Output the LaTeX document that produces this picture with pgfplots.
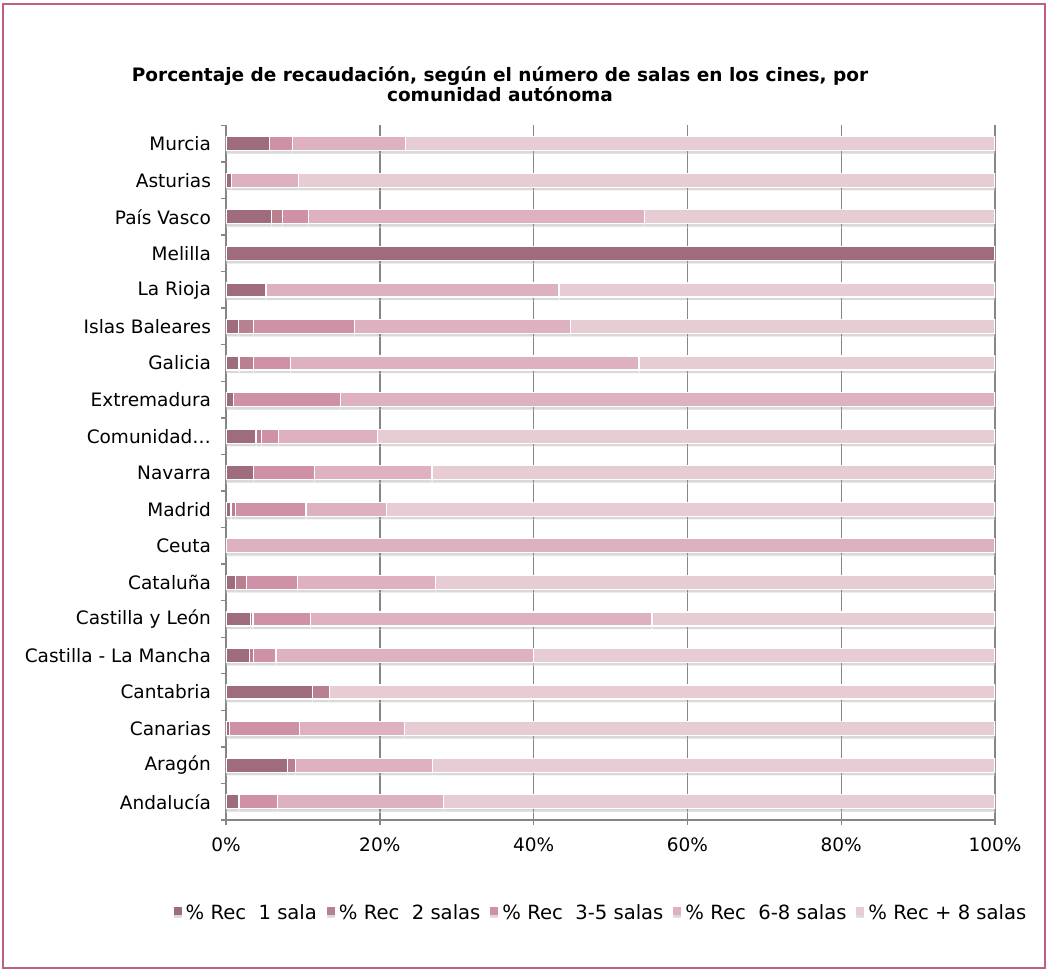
\documentclass[border=0pt]{standalone}
\usepackage{pgfplots}
\pgfplotsset{compat=1.18}
\usepackage{pgfplotstable}
\usepackage{fontspec}
\setmainfont{DejaVu Sans}
\usetikzlibrary{shadows}

\definecolor{c1}{HTML}{9E6C7C}
\definecolor{c2}{HTML}{B8818F}
\definecolor{c3}{HTML}{CF91A6}
\definecolor{c4}{HTML}{DDB1C0}
\definecolor{c5}{HTML}{E8CCD4}
\definecolor{frame}{HTML}{C0607F}
\definecolor{axgray}{HTML}{868686}

% pos: 0 = Andalucia (bottom) ... 18 = Murcia (top)
\pgfplotstableread{
pos s1 s2 s3 s4 s5
0 1.7 0 5.0 21.6 71.7
1 8.0 1.0 0 17.9 73.1
2 0.5 0 9.1 13.6 76.8
3 11.2 2.3 0 0 86.5
4 3.1 0.5 2.9 33.5 60.0
5 3.2 0.3 7.5 44.4 44.6
6 1.2 1.5 6.6 17.9 72.8
7 0 0 0 100 0
8 0.65 0.55 9.2 10.5 79.1
9 3.6 0 7.9 15.3 73.2
10 3.9 0.7 2.2 12.9 80.3
11 1.0 0 13.9 85.1 0
12 1.7 1.9 4.8 45.3 46.3
13 1.6 2.0 13.1 28.1 55.2
14 5.2 0 0 38.1 56.7
15 100 0 0 0 0
16 5.9 1.4 3.4 43.7 45.6
17 0.7 0 0 8.7 90.6
18 5.7 0 2.9 14.7 76.7
}\datatable

\begin{document}
\begin{tikzpicture}
\useasboundingbox (0,0) rectangle (524pt,-486.5pt);
\draw[frame, line width=1pt] (1.5pt,-2pt) rectangle (522.5pt,-484pt);

\node[font=\bfseries\fontsize{9.25}{10}\selectfont, align=center] at (250pt,-42pt)
  {Porcentaje de recaudación, según el número de salas en los cines, por\\comunidad autónoma};

\begin{axis}[
  at={(113pt,-410pt)}, anchor=south west,
  scale only axis, width=384.5pt, height=347.3pt,
  xbar stacked, bar width=7pt,
  xmin=0, xmax=100, ymin=-0.5, ymax=18.5,
  axis x line*=bottom, axis y line*=left,
  axis line style={axgray, line width=0.7pt},
  xtick={0,20,...,100},
  xticklabel={\pgfmathprintnumber{\tick}\%},
  ytick={0,...,18},
  yticklabels={Andalucía,Aragón,Canarias,Cantabria,Castilla - La Mancha,Castilla y León,Cataluña,Ceuta,Madrid,Navarra,Comunidad…,Extremadura,Galicia,Islas Baleares,La Rioja,Melilla,País Vasco,Asturias,Murcia},
  minor ytick={-0.5,0.5,...,18.5},
  tick align=outside,
  major tick length=2.5pt, minor tick length=2.5pt,
  ytick style={draw=none},
  minor y tick style={draw=axgray, line width=0.7pt},
  xtick style={draw=axgray, line width=0.7pt},
  xmajorgrids, grid style={axgray, line width=0.7pt},
  tick label style={font=\fontsize{9.25}{11}\selectfont},
  /pgf/number format/assume math mode=true,
  yticklabel style={xshift=-1.5pt},
  xticklabel style={yshift=-3pt},
  every axis plot/.append style={draw=white, line width=0.6pt,
    drop shadow={shadow xshift=0pt, shadow yshift=-1.6pt, opacity=0.3}},
  legend columns=5,
  legend style={at={(0.489,-0.134)}, anchor=center, draw=none,
    font=\fontsize{9.8}{11}\selectfont,
    /tikz/every even column/.append style={column sep=3pt}},
  legend image code/.code={\fill[#1, draw=none] (0pt,-0.8pt) rectangle (4pt,3.2pt);},
]
\addplot[fill=c1] table[x=s1, y=pos] {\datatable};
\addplot[fill=c2] table[x=s2, y=pos] {\datatable};
\addplot[fill=c3] table[x=s3, y=pos] {\datatable};
\addplot[fill=c4] table[x=s4, y=pos] {\datatable};
\addplot[fill=c5] table[x=s5, y=pos] {\datatable};
\legend{\% Rec\ \ 1 sala, \% Rec\ \ 2 salas, \% Rec\ \ 3-5 salas, \% Rec\ \ 6-8 salas, \% Rec + 8 salas}
\end{axis}
\end{tikzpicture}
\end{document}
